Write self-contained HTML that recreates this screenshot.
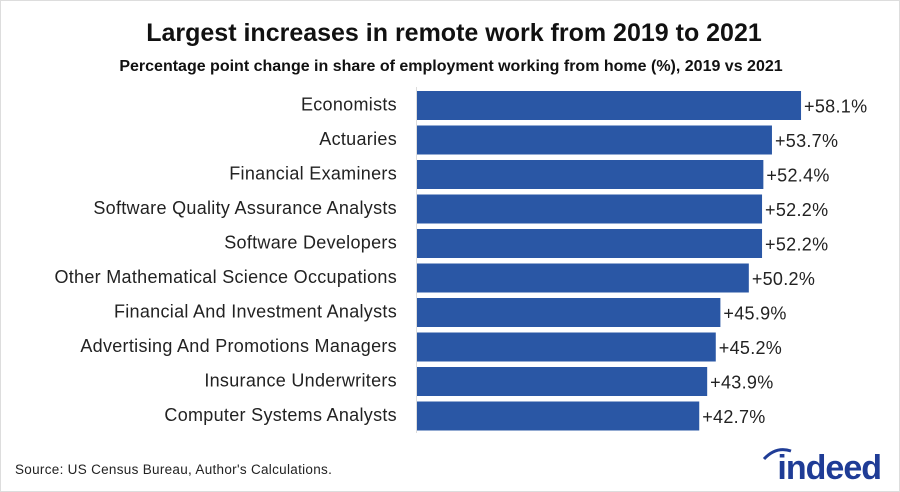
<!DOCTYPE html>
<html><head><meta charset="utf-8"><style>
body{margin:0;background:#fff;}
#c{position:relative;width:900px;height:492px;font-family:"Liberation Sans",sans-serif;overflow:hidden;border:1px solid #ddd;box-sizing:border-box;}
</style></head><body>
<div id="c">
<svg width="900" height="492" id="svg">
<text x="453" y="40" text-anchor="middle" font-size="25" font-weight="bold" fill="#111">Largest increases in remote work from 2019 to 2021</text>
<text x="450" y="70" text-anchor="middle" font-size="16" font-weight="bold" fill="#111">Percentage point change in share of employment working from home (%), 2019 vs 2021</text>
<line x1="415.5" y1="86" x2="415.5" y2="432" stroke="#ddd"/>
<g id="bars"></g>
<text x="14" y="473" font-size="13.5" letter-spacing="0.3" fill="#222">Source: US Census Bureau, Author's Calculations.</text>
<text x="880" y="478" text-anchor="end" font-size="34" font-weight="bold" fill="#1f3c96" letter-spacing="-1">indeed</text>
<path d="M763 458 Q775 445 790 450" stroke="#1f3c96" stroke-width="3" fill="none"/>
</svg>
</div>
<script>
const categories=["Economists","Actuaries","Financial Examiners","Software Quality Assurance Analysts","Software Developers","Other Mathematical Science Occupations","Financial And Investment Analysts","Advertising And Promotions Managers","Insurance Underwriters","Computer Systems Analysts"];
const values=[58.1,53.7,52.4,52.2,52.2,50.2,45.9,45.2,43.9,42.7];
const labels=["+58.1%","+53.7%","+52.4%","+52.2%","+52.2%","+50.2%","+45.9%","+45.2%","+43.9%","+42.7%"];
const x0=416, kScale=6.61, barTop=90, step=34.5, bh=29;
const xs=v=>x0+v*kScale, ys=i=>barTop+i*step;
const g=document.getElementById('bars'), ns="http://www.w3.org/2000/svg";
categories.forEach((c,i)=>{
  const r=document.createElementNS(ns,'rect');
  r.setAttribute('x',x0);r.setAttribute('y',ys(i));r.setAttribute('width',xs(values[i])-x0);r.setAttribute('height',bh);r.setAttribute('fill','#2a57a5');
  
  
  g.appendChild(r);
  const t=document.createElementNS(ns,'text');
  t.setAttribute('x',396);t.setAttribute('y',ys(i)+bh/2+5);t.setAttribute('text-anchor','end');t.setAttribute('font-size','18');t.setAttribute('letter-spacing','0.3');t.setAttribute('fill','#222');t.textContent=c;
  
  
  g.appendChild(t);
  const v=document.createElementNS(ns,'text');
  v.setAttribute('x',xs(values[i])+3);v.setAttribute('y',ys(i)+bh/2+7);v.setAttribute('font-size','18');v.setAttribute('letter-spacing','0.3');v.setAttribute('fill','#222');v.textContent=labels[i];
  
  
  g.appendChild(v);
});
</script>
</body></html>
